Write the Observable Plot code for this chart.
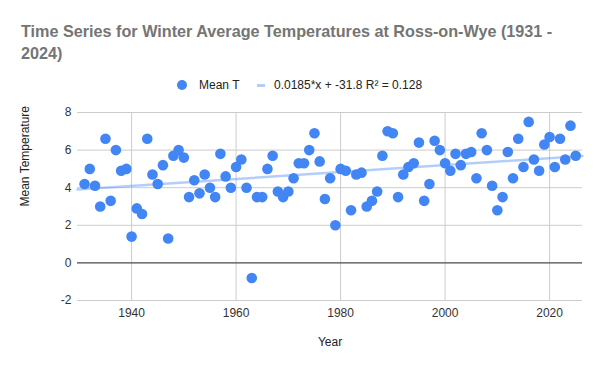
<!DOCTYPE html>
<html>
<head>
<meta charset="utf-8">
<script src="https://cdn.jsdelivr.net/npm/d3@7"></script>
<script src="https://cdn.jsdelivr.net/npm/@observablehq/plot@0.6"></script>
<style>
  html, body { margin: 0; padding: 0; background: #fff; }
  #wrap { position: relative; width: 600px; height: 371px; overflow: hidden; font-family: "Liberation Sans", Arial, sans-serif; }
  #title { position: absolute; left: 21px; top: 20px; font-size: 16.2px; font-weight: bold; line-height: 22px; color: #757575; white-space: nowrap; }
  .lg { position: absolute; }
  .lgtext { position: absolute; top: 78px; font-size: 12px; line-height: 14px; color: #222; white-space: nowrap; }
  #chart { position: absolute; left: 0; top: 95px; }
</style>
</head>
<body>
<div id="wrap">
  <div id="title">Time Series for Winter Average Temperatures at Ross-on-Wye (1931 -<br>2024)</div>
  <div class="lg" style="left:177px;top:80px;width:10px;height:10px;border-radius:50%;background:#4285F4"></div>
  <div class="lgtext" style="left:199px">Mean T</div>
  <div class="lg" style="left:257px;top:83.5px;width:8px;height:3px;background:#4285F4;opacity:0.4"></div>
  <div class="lgtext" style="left:274px">0.0185*x + -31.8 R² = 0.128</div>
  <div id="chart"></div>
</div>
<script>
const years = [1931,1932,1933,1934,1935,1936,1937,1938,1939,1940,
  1941,1942,1943,1944,1945,1946,1947,1948,1949,1950,
  1951,1952,1953,1954,1955,1956,1957,1958,1959,1960,
  1961,1962,1963,1964,1965,1966,1967,1968,1969,1970,
  1971,1972,1973,1974,1975,1976,1977,1978,1979,1980,
  1981,1982,1983,1984,1985,1986,1987,1988,1989,1990,
  1991,1992,1993,1994,1995,1996,1997,1998,1999,2000,
  2001,2002,2003,2004,2005,2006,2007,2008,2009,2010,
  2011,2012,2013,2014,2015,2016,2017,2018,2019,2020,
  2021,2022,2023,2024,2025];
const meanT = [4.2,5.0,4.1,3.0,6.6,3.3,6.0,4.9,5.0,1.4,
  2.9,2.6,6.6,4.7,4.2,5.2,1.3,5.7,6.0,5.6,
  3.5,4.4,3.7,4.7,4.0,3.5,5.8,4.6,4.0,5.1,
  5.5,4.0,-0.8,3.5,3.5,5.0,5.7,3.8,3.5,3.8,
  4.5,5.3,5.3,6.0,6.9,5.4,3.4,4.5,2.0,5.0,
  4.9,2.8,4.7,4.8,3.0,3.3,3.8,5.7,7.0,6.9,
  3.5,4.7,5.1,5.3,6.4,3.3,4.2,6.5,6.0,5.3,
  4.9,5.8,5.2,5.8,5.9,4.5,6.9,6.0,4.1,2.8,
  3.5,5.9,4.5,6.6,5.1,7.5,5.5,4.9,6.3,6.7,
  5.1,6.6,5.5,7.3,5.7];
const xTicks = [1940, 1960, 1980, 2000, 2020];
const yTicks = [-2, 0, 2, 4, 6, 8];
const trendSlope = 0.0185;
const trendIntercept = -31.8;
const xDomain = [1929.65, 2026.3];
const yDomain = [-2, 8];

const data = years.map((year, i) => ({year, t: meanT[i]}));
const trend = xDomain.map(x => ({x, y: trendSlope * x + trendIntercept}));

const chart = Plot.plot({
  width: 600,
  height: 276,
  marginLeft: 77,
  marginRight: 18,
  marginTop: 17,
  marginBottom: 71,
  style: {fontFamily: '"Liberation Sans", Arial, sans-serif', fontSize: "12px", background: "transparent", color: "#333"},
  x: {domain: xDomain},
  y: {domain: yDomain},
  marks: [
    Plot.gridX(xTicks, {stroke: "#ccc", strokeOpacity: 1}),
    Plot.gridY(yTicks, {stroke: "#ccc", strokeOpacity: 1}),
    Plot.ruleY([0], {stroke: "#333", strokeWidth: 1}),
    Plot.line(trend, {x: "x", y: "y", stroke: "#4285F4", strokeOpacity: 0.4, strokeWidth: 2.5}),
    Plot.dot(data, {x: "year", y: "t", r: 5.3, fill: "#4285F4"}),
    Plot.axisX({ticks: xTicks, tickSize: 0, tickPadding: 8, tickFormat: d => String(d), label: null, fill: "#333"}),
    Plot.axisY({ticks: yTicks, tickSize: 0, tickPadding: 6, tickFormat: d => String(d), label: null, fill: "#333"}),
    Plot.text(["Year"], {frameAnchor: "bottom", dy: 45, fill: "#222", fontSize: 12}),
    Plot.text(["Mean Temperature"], {frameAnchor: "left", dx: -52, rotate: -90, fill: "#222", fontSize: 12})
  ]
});
document.getElementById("chart").appendChild(chart);
</script>
</body>
</html>
